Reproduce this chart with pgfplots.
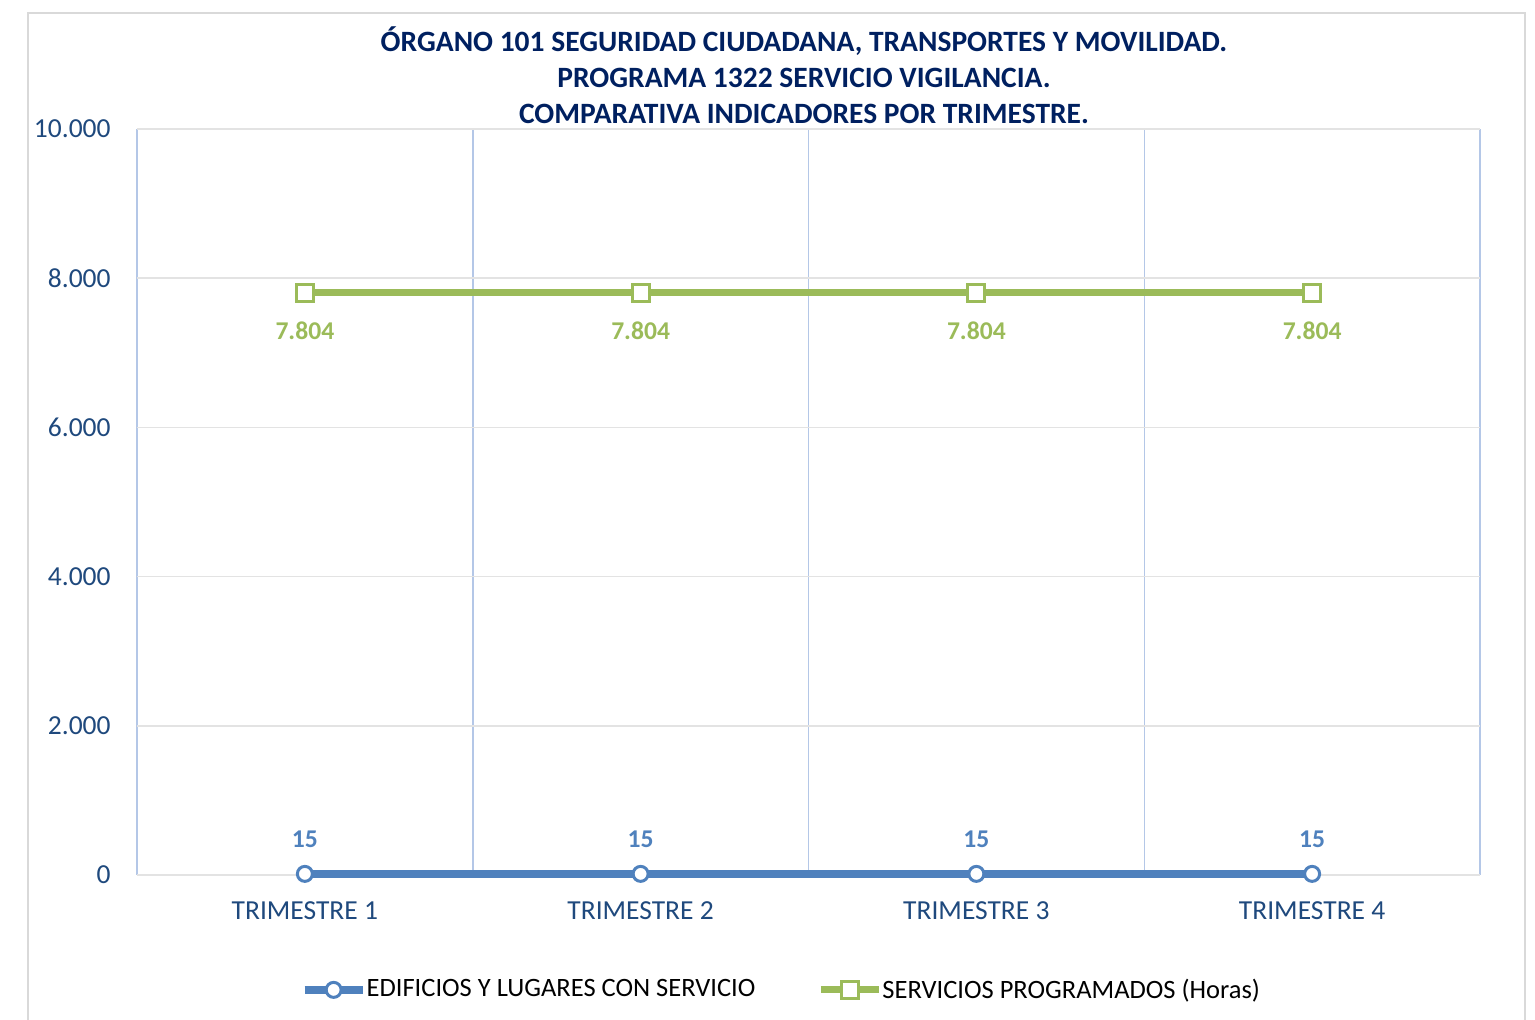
\documentclass[border=0pt]{standalone}
\usepackage{pgfplots}
\pgfplotsset{compat=1.18}
\usepackage{fontspec}
\setmainfont{Carlito}
\definecolor{ser1}{HTML}{4F81BD}
\definecolor{ser2}{HTML}{9BBB59}
\definecolor{tickc}{HTML}{1F497D}
\definecolor{ttl}{HTML}{002060}
\definecolor{vgrid}{HTML}{B4C7E7}
\definecolor{hgrid}{HTML}{E3E3E3}
\definecolor{frame}{HTML}{D9D9D9}
\begin{document}
\begin{tikzpicture}
\path[use as bounding box] (0,0) rectangle (767.5pt,510pt);
\draw[frame, line width=1pt] (14pt,-10pt) rectangle (762.5pt,503.5pt);
\node[align=center, font=\fontsize{14.75}{18}\selectfont\bfseries, text=ttl] at (402pt,472.5pt)
  {ÓRGANO 101 SEGURIDAD CIUDADANA, TRANSPORTES Y MOVILIDAD.\\PROGRAMA 1322 SERVICIO VIGILANCIA.\\COMPARATIVA INDICADORES POR TRIMESTRE.};
\begin{axis}[
  at={(68.5pt,72.5pt)}, anchor=south west,
  scale only axis, width=671.5pt, height=373pt,
  xmin=-0.5, xmax=3.5, ymin=0, ymax=10000,
  xtick={0,1,2,3},
  xticklabels={TRIMESTRE 1,TRIMESTRE 2,TRIMESTRE 3,TRIMESTRE 4},
  minor xtick={-0.5,0.5,1.5,2.5,3.5},
  ytick={0,2000,4000,6000,8000,10000},
  scaled y ticks=false,
  /pgf/number format/.cd, 1000 sep={.}, assume math mode=true, /pgfplots/.cd,
  major tick length=0pt, minor tick length=0pt,
  axis line style={draw=none},
  ymajorgrids, xminorgrids,
  major grid style={hgrid, line width=0.75pt},
  minor grid style={vgrid, line width=0.75pt},
  tick label style={font=\fontsize{13.75}{16}\selectfont, text=tickc},
  yticklabel style={inner xsep=13pt},
  xticklabel style={inner ysep=13pt},
  clip=false,
  legend style={at={(0.479,-0.154)}, anchor=center, draw=none, legend columns=2,
    font=\fontsize{13.25}{16}\selectfont, nodes={inner xsep=0pt},
    /tikz/every even column/.append style={column sep=31pt}},
  legend image code/.code={\draw[mark repeat=2,mark phase=2,#1] plot coordinates {(0pt,0pt) (14.5pt,0pt) (29pt,0pt)};},
]
\addplot[ser1, line width=4pt, mark=*, mark size=3.75pt,
  mark options={fill=white, draw=ser1, line width=1.5pt},
  nodes near coords, every node near coord/.append style={anchor=center, yshift=17.5pt, font=\fontsize{12.8}{15}\selectfont\bfseries, text=ser1}]
  coordinates {(0,15) (1,15) (2,15) (3,15)};
\addlegendentry{EDIFICIOS Y LUGARES CON SERVICIO}
\addplot[ser2, line width=3.5pt, mark=square*, mark size=4.25pt,
  mark options={fill=white, draw=ser2, line width=1.5pt},
  nodes near coords, every node near coord/.append style={anchor=center, yshift=-19pt, font=\fontsize{12.8}{15}\selectfont\bfseries, text=ser2}]
  coordinates {(0,7804) (1,7804) (2,7804) (3,7804)};
\addlegendentry{SERVICIOS PROGRAMADOS (Horas)}
\end{axis}
\end{tikzpicture}
\end{document}
